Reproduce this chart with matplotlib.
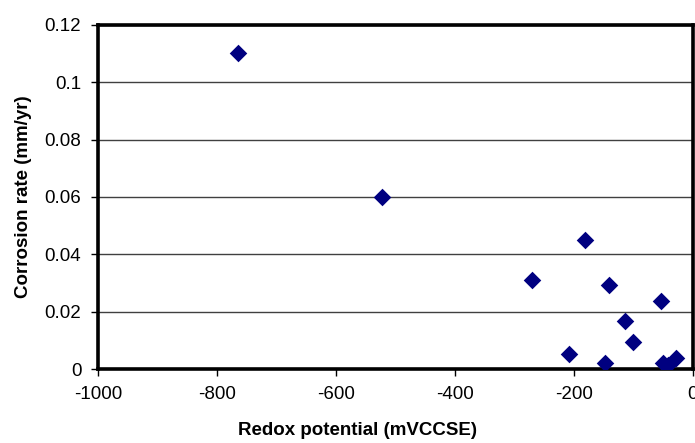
import matplotlib
matplotlib.use("Agg")
import matplotlib.pyplot as plt

# redox potential (mV vs CCSE) and corrosion rate (mm/yr)
redox = [-765, -523, -270, -182, -141, -208, -54, -114, -101, -148, -50, -42, -28]
corrosion = [0.110, 0.060, 0.031, 0.045, 0.0294, 0.0051, 0.0238, 0.0169, 0.0094, 0.0022, 0.0022, 0.0014, 0.0038]

x_ticks = [-1000, -800, -600, -400, -200, 0]
y_ticks = [0, 0.02, 0.04, 0.06, 0.08, 0.1, 0.12]
y_tick_labels = ["0", "0.02", "0.04", "0.06", "0.08", "0.1", "0.12"]

plt.rcParams['font.family'] = ['Liberation Sans', 'DejaVu Sans']
plt.rcParams['axes.unicode_minus'] = False

fig = plt.figure(figsize=(6.95, 4.43), dpi=100)
ax = fig.add_axes([0.141, 0.167, 0.856, 0.777])

ax.scatter(redox, corrosion, marker='D', s=80, color='#000080', zorder=3, linewidths=0)

ax.set_xlim(-1000, 0)
ax.set_ylim(0, 0.12)
ax.set_xticks(x_ticks)
ax.set_yticks(y_ticks)
ax.set_yticklabels(y_tick_labels)
ax.yaxis.grid(True, color='#404040', linewidth=1.0)
ax.set_axisbelow(True)

for s in ax.spines.values():
    s.set_linewidth(2.6)
    s.set_color('black')

ax.tick_params(axis='both', direction='out', length=5, width=1, labelsize=13.5, colors='black', pad=7)

ax.set_xlabel('Redox potential (mVCCSE)', fontsize=13.5, fontweight='bold')
ax.set_ylabel('Corrosion rate (mm/yr)', fontsize=13.5, fontweight='bold', labelpad=9)
# the source chart was cropped on the right, so its x title sits left of centre
ax.xaxis.set_label_coords(0.437, -0.153)

fig.savefig('out.png', dpi=100, facecolor='white')
